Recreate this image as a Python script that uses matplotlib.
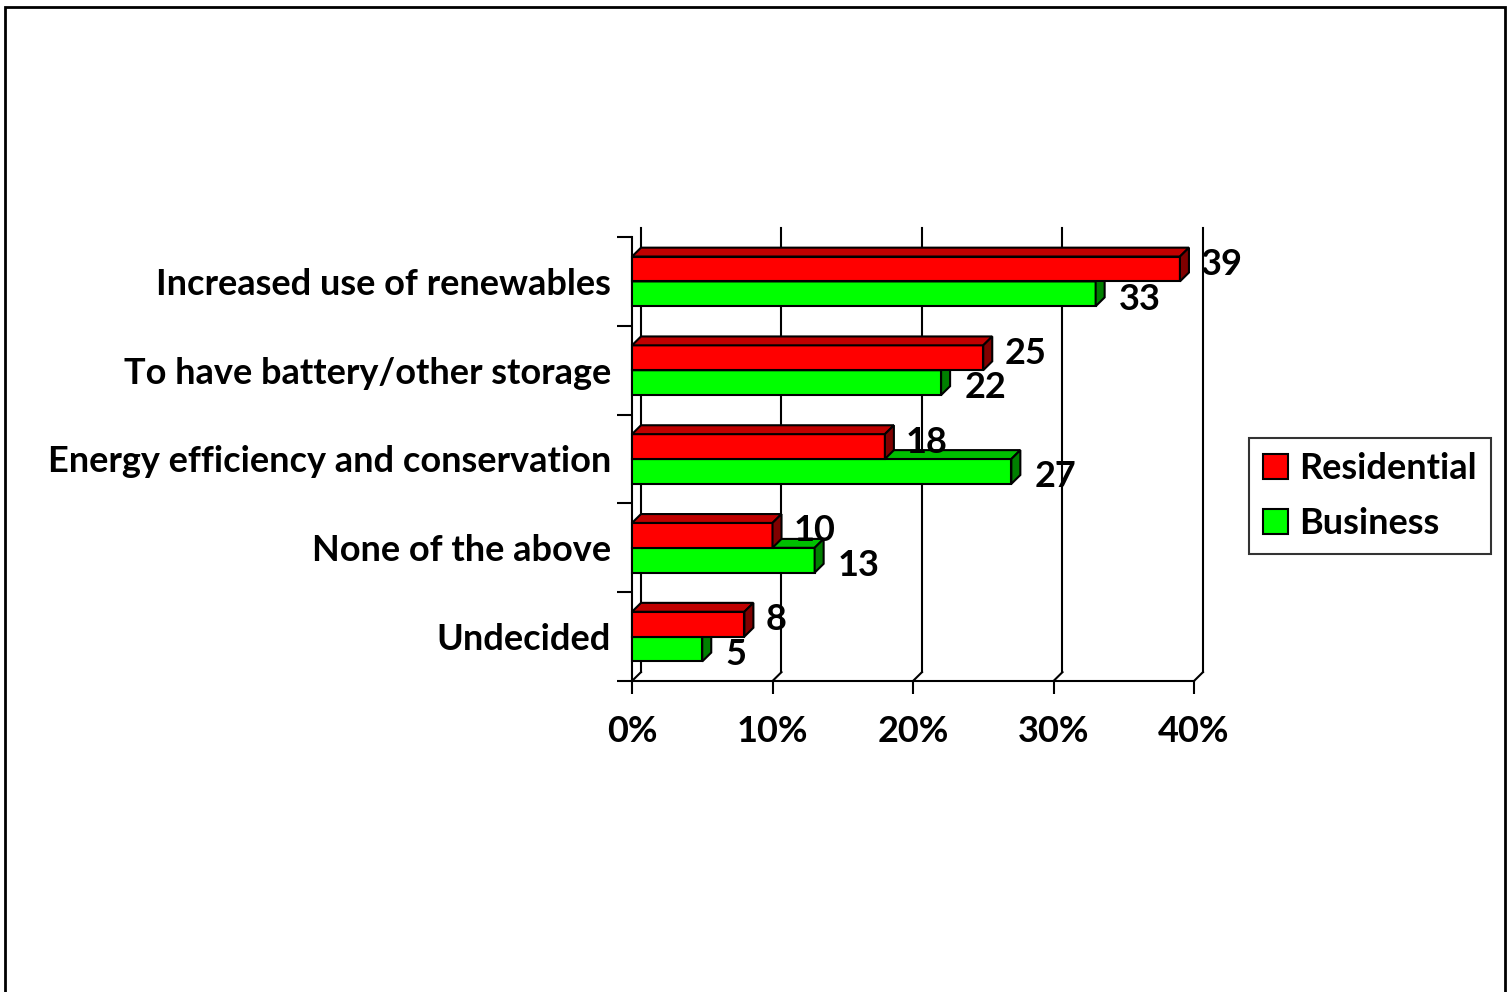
import matplotlib.pyplot as plt
from matplotlib.patches import Polygon, Patch, Rectangle

# Survey results (percent of respondents)
categories = ['Increased use of renewables', 'To have battery/other storage',
              'Energy efficiency and conservation', 'None of the above', 'Undecided']
residential = [39, 25, 18, 10, 8]
business = [33, 22, 27, 13, 5]
series_names = ['Residential', 'Business']
x_ticks = [0, 10, 20, 30, 40]
x_tick_labels = ['0%', '10%', '20%', '30%', '40%']

plt.rcParams['font.family'] = ['Lato', 'DejaVu Sans']
plt.rcParams['font.weight'] = 'bold'
FS = 26

fig = plt.figure(figsize=(15.12, 9.92), dpi=100)
ax = fig.add_axes([632 / 1512, 311 / 992, 562 / 1512, 444 / 992])
ax.set_xlim(0, 40)
ax.set_ylim(0, len(categories))

# depth of the pseudo 3-D effect, in data units
DX, DY = 0.64, 0.10
LW = 1.5

# back wall gridlines and the floor edges joining them to the front
for k in x_ticks:
    ax.plot([k + DX, k + DX], [DY, len(categories) + DY], color='black', lw=LW,
            clip_on=False, zorder=1, solid_joinstyle='miter')
    ax.plot([k, k + DX], [0, DY], color='black', lw=LW, clip_on=False, zorder=1)


def bar3d(y0, h, v, front, top, side):
    faces = [
        ([(0, y0), (v, y0), (v, y0 + h), (0, y0 + h)], front),
        ([(0, y0 + h), (v, y0 + h), (v + DX, y0 + h + DY), (DX, y0 + h + DY)], top),
        ([(v, y0), (v + DX, y0 + DY), (v + DX, y0 + h + DY), (v, y0 + h)], side),
    ]
    for pts, c in faces:
        ax.add_patch(Polygon(pts, closed=True, facecolor=c, edgecolor='black',
                             lw=LW, joinstyle='miter', clip_on=False, zorder=3))


n = len(categories)
bar_h = 0.28
for i, cat in enumerate(categories):
    base = n - 1 - i
    g0 = base + 0.22
    r0 = g0 + bar_h
    bar3d(g0, bar_h, business[i], '#00FF00', '#00C000', '#008000')
    bar3d(r0, bar_h, residential[i], '#FF0000', '#C00000', '#800000')
    ax.text(residential[i] + DX + 0.85, r0 + bar_h / 2 + 0.05, str(residential[i]),
            ha='left', va='center', fontsize=FS, fontweight='bold', zorder=4)
    ax.text(business[i] + DX + 1.0, g0 + bar_h / 2 - 0.06, str(business[i]),
            ha='left', va='center', fontsize=FS, fontweight='bold', zorder=4)

# axes: front floor edge and left edge with outward ticks
for s in ['top', 'right']:
    ax.spines[s].set_visible(False)
for s in ['left', 'bottom']:
    ax.spines[s].set_linewidth(LW)
    ax.spines[s].set_zorder(2)
ax.set_facecolor('none')

ax.set_xticks(x_ticks)
ax.set_xticklabels(x_tick_labels, fontsize=FS, fontweight='bold')
ax.tick_params(axis='x', direction='out', length=9.4, width=LW, pad=15)

ax.set_yticks(range(n + 1))
ax.set_yticklabels([])
ax.set_yticks([n - 1 - i + 0.5 for i in range(n)], minor=True)
ax.set_yticklabels(categories, minor=True, fontsize=FS, fontweight='bold')
ax.tick_params(axis='y', which='major', direction='out', length=10.8, width=LW)
ax.tick_params(axis='y', which='minor', length=0, pad=15)

handles = [Patch(facecolor='#FF0000', edgecolor='black', lw=LW),
           Patch(facecolor='#00FF00', edgecolor='black', lw=LW)]
leg = fig.legend(handles, series_names, loc='center left',
                 bbox_to_anchor=(1249 / 1512, 1 - 496 / 992), frameon=True,
                 fancybox=False, edgecolor='black', fontsize=FS,
                 handlelength=0.68, handleheight=0.68, handletextpad=0.3,
                 labelspacing=0.6, borderpad=0.4, borderaxespad=0)
leg.get_frame().set_linewidth(LW)
for t in leg.get_texts():
    t.set_fontweight('bold')

# chart area border
fig.add_artist(Rectangle((5 / 1512, -0.05), 1500 / 1512, 1 - 7 / 992 + 0.05,
                         transform=fig.transFigure, fill=False, lw=2, edgecolor='black'))

fig.savefig('out.png', dpi=100)
